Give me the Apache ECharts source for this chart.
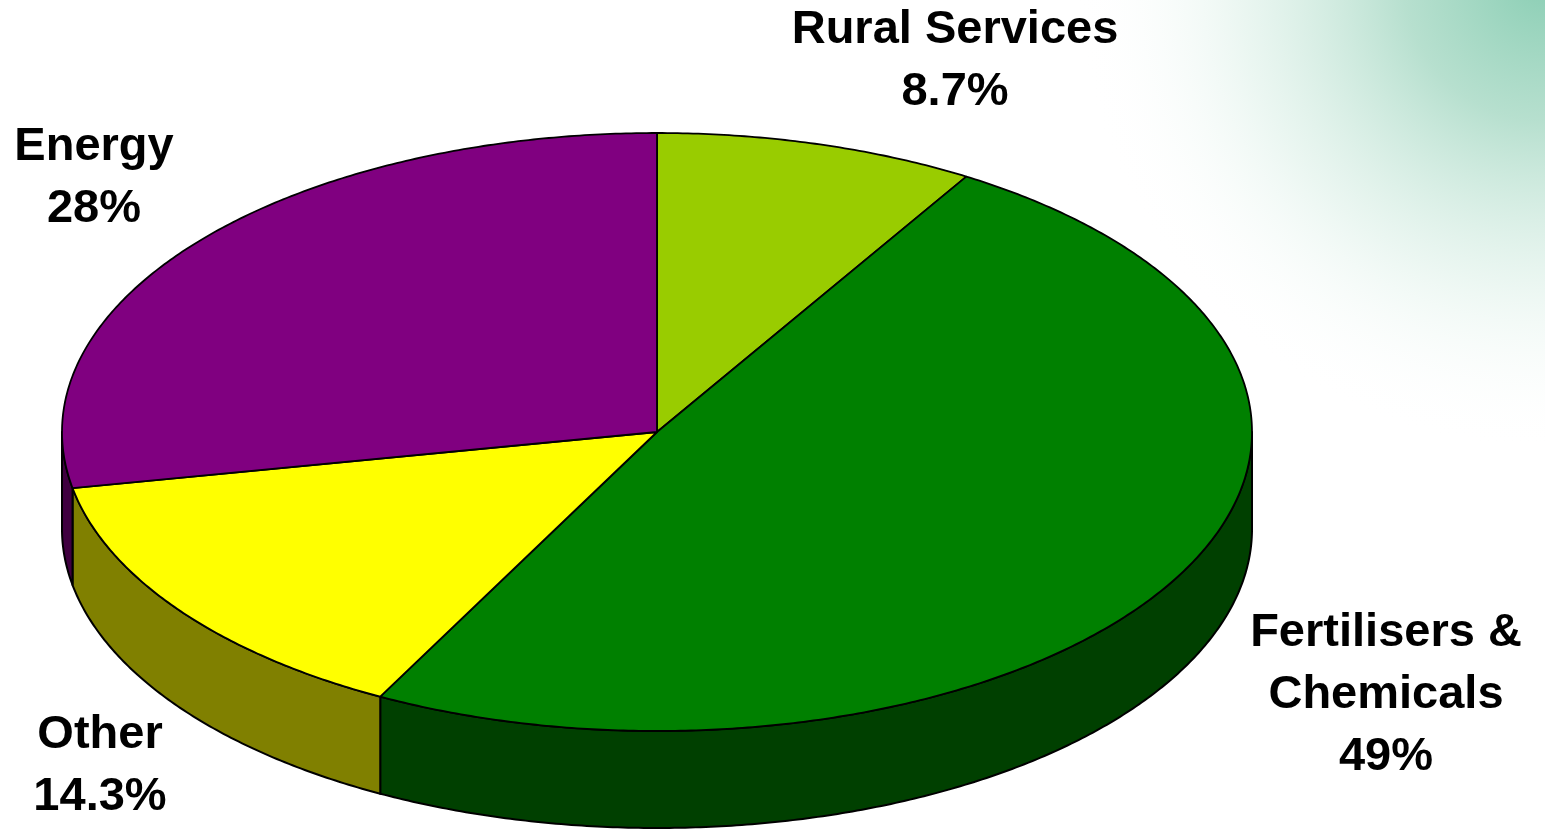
<!DOCTYPE html>
<html>
<head>
<meta charset="utf-8">
<script src="https://cdn.jsdelivr.net/npm/echarts@6/dist/echarts.min.js"></script>
<style>html,body{margin:0;padding:0;background:#fff}#c{width:1545px;height:829px}</style>
</head>
<body>
<div id="c"></div>
<script>
// ---- data ----
var categories = ['Rural Services', 'Fertilisers &\nChemicals', 'Other', 'Energy'];
var values = [8.7, 49, 14.3, 28];
var topColors = ['#99CC00', '#008000', '#FFFF00', '#800080'];
var sideColors = ['#4D6600', '#004000', '#808000', '#400040'];

// ---- layout ----
var pie = { cx: 657, cy: 432, rx: 595, ry: 299, depth: 97 };
var labelAnchors = [[955, 61], [1386, 695], [100, 766], [94, 178]];

var total = values.reduce(function (a, b) { return a + b; }, 0);
var starts = [];
(function () { var acc = 0; for (var i = 0; i < values.length; i++) { starts.push(acc / total * 360); acc += values[i]; } })();

function pt(tDeg, dy) {
  var t = tDeg * Math.PI / 180;
  return [pie.cx + pie.rx * Math.sin(t), pie.cy - pie.ry * Math.cos(t) + (dy || 0)];
}
function arc(a0, a1, dy) {
  var pts = [], n = Math.max(2, Math.ceil(Math.abs(a1 - a0) / 0.5));
  for (var k = 0; k <= n; k++) pts.push(pt(a0 + (a1 - a0) * k / n, dy));
  return pts;
}

var chart = echarts.init(document.getElementById('c'), null, { renderer: 'canvas' });
chart.setOption({
  backgroundColor: '#ffffff',
  animation: false,
  graphic: [{
    type: 'rect', left: 0, top: 0, z: -10, silent: true,
    shape: { width: 1545, height: 829 },
    style: {
      fill: {
        type: 'radial', x: 1545, y: -20, r: 470, global: true,
        colorStops: [
          { offset: 0, color: 'rgba(138,206,180,1)' },
          { offset: 0.3, color: 'rgba(170,218,198,0.85)' },
          { offset: 0.65, color: 'rgba(215,238,228,0.5)' },
          { offset: 1, color: 'rgba(255,255,255,0)' }
        ]
      }
    }
  }],
  series: [{
    type: 'custom',
    coordinateSystem: 'none',
    data: values.map(function (v, i) { return [i, v]; }),
    renderItem: function (params, api) {
      var i = params.dataIndex;
      var a0 = starts[i], a1 = a0 + values[i] / total * 360;
      var children = [];
      // side wall (front half: 90..270)
      var w0 = Math.max(a0, 90), w1 = Math.min(a1, 270);
      if (w1 > w0) {
        var topEdge = arc(w0, w1, 0);
        var botEdge = arc(w1, w0, pie.depth);
        children.push({
          type: 'polygon',
          shape: { points: topEdge.concat(botEdge) },
          style: { fill: sideColors[i], stroke: '#000', lineWidth: 2, lineJoin: 'round' }
        });
      }
      // top face
      var pts = [[pie.cx, pie.cy]].concat(arc(a0, a1, 0));
      children.push({
        type: 'polygon',
        z2: 10,
        shape: { points: pts },
        style: { fill: topColors[i], stroke: '#000', lineWidth: 1.8, lineJoin: 'round' }
      });
      // label
      children.push({
        type: 'text',
        z2: 20,
        x: labelAnchors[i][0], y: labelAnchors[i][1],
        style: {
          text: categories[i] + '\n' + values[i] + '%',
          fill: '#000',
          font: 'bold 47px "Liberation Sans", Arial, sans-serif',
          lineHeight: 62,
          align: 'center',
          verticalAlign: 'middle'
        }
      });
      return { type: 'group', children: children };
    }
  }]
});
</script>
</body>
</html>
